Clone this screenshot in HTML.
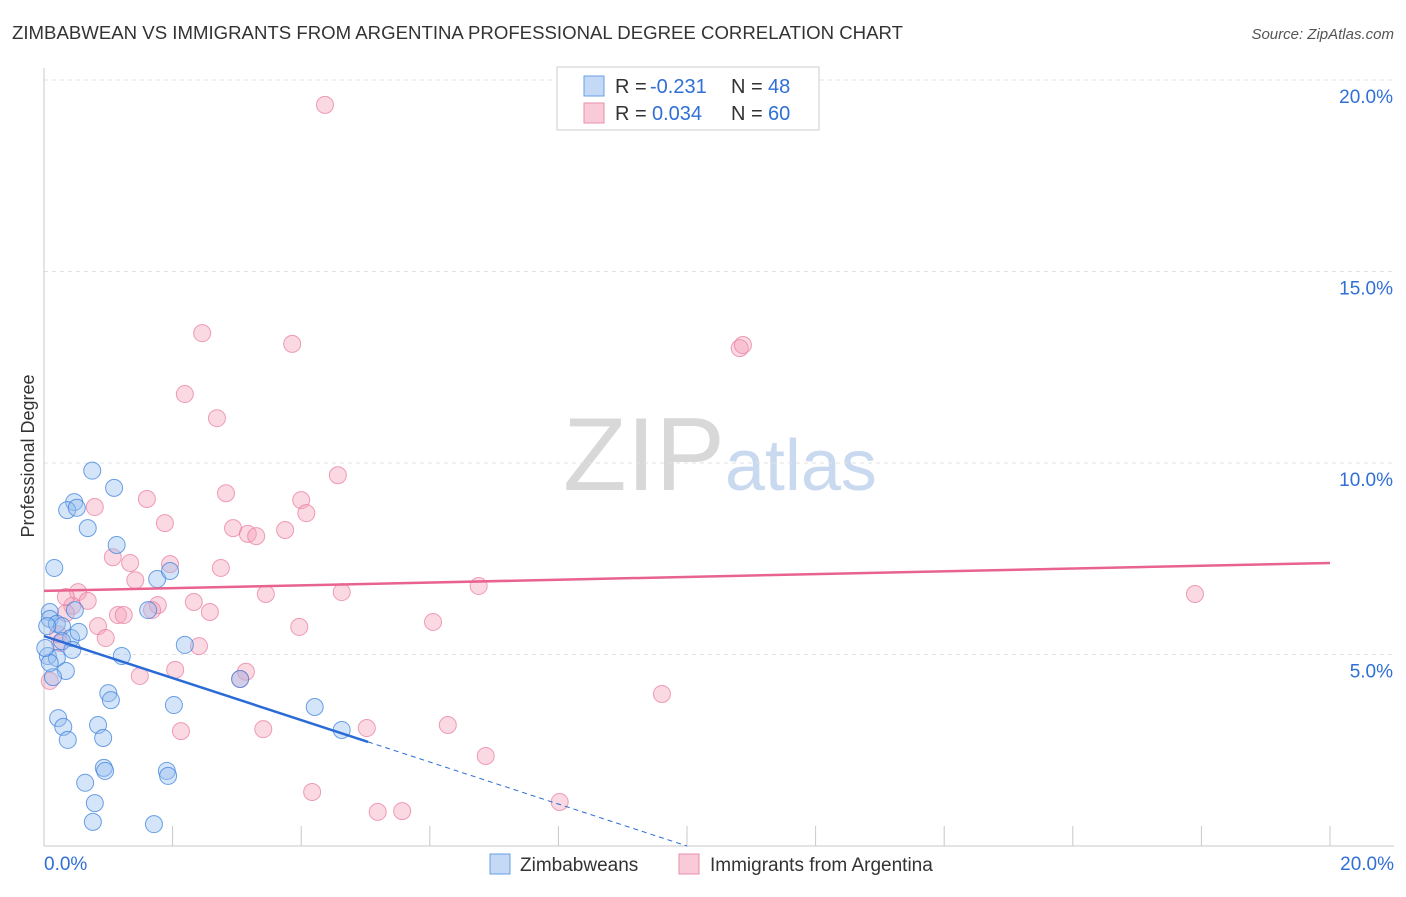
<!DOCTYPE html>
<html><head><meta charset="utf-8"><style>
body{margin:0;background:#fff;font-family:"Liberation Sans",sans-serif;}
svg text{font-family:"Liberation Sans",sans-serif;}
</style></head><body>
<svg id="chart" width="1406" height="892" xmlns="http://www.w3.org/2000/svg">
<text x="12" y="39" font-size="18" fill="#333" textLength="891" lengthAdjust="spacingAndGlyphs">ZIMBABWEAN VS IMMIGRANTS FROM ARGENTINA PROFESSIONAL DEGREE CORRELATION CHART</text>
<text x="1394" y="39" font-size="15" fill="#555" font-style="italic" text-anchor="end">Source: ZipAtlas.com</text>
<text x="720" y="490" font-size="104" text-anchor="middle" font-family="Liberation Serif"><tspan fill="#d8d8d8">ZIP</tspan><tspan fill="#c9d9ef" font-family="Liberation Sans" font-size="72">atlas</tspan></text>
<g id="grid"></g><g id="axes"></g><g id="marks"></g>
<text transform="translate(34,456) rotate(-90)" font-size="18" fill="#333" text-anchor="middle">Professional Degree</text>
<g>
<rect x="557" y="67" width="262" height="63" fill="#fff" stroke="#ccc"/>
<rect x="584" y="76" width="20" height="20" fill="#c4d9f5" stroke="#6a9ee6"/>
<rect x="584" y="103" width="20" height="20" fill="#f9cbd8" stroke="#ea8fab"/>
<text x="615" y="93" font-size="20" fill="#333">R =</text>
<text x="650" y="93" font-size="20" fill="#2f6fd6">-0.231</text>
<text x="731" y="93" font-size="20" fill="#333">N =</text>
<text x="768" y="93" font-size="20" fill="#2f6fd6">48</text>
<text x="615" y="120" font-size="20" fill="#333">R =</text>
<text x="652" y="120" font-size="20" fill="#2f6fd6">0.034</text>
<text x="731" y="120" font-size="20" fill="#333">N =</text>
<text x="768" y="120" font-size="20" fill="#2f6fd6">60</text>
</g>
<g>
<rect x="490" y="854" width="20" height="20" fill="#c4d9f5" stroke="#6a9ee6"/>
<text x="520" y="871" font-size="19" fill="#333">Zimbabweans</text>
<rect x="679" y="854" width="20" height="20" fill="#f9cbd8" stroke="#ea8fab"/>
<text x="710" y="871" font-size="19" fill="#333">Immigrants from Argentina</text>
</g>
</svg>
<script>
const yTicks=[5,10,15,20];
const yTickLabels=["5.0%","10.0%","15.0%","20.0%"];
const xTickLabels=["0.0%","20.0%"];
const blueX=[0.75,1.09,0.47,0.36,0.51,0.68,1.13,0.16,1.76,1.96,1.62,0.09,0.09,0.48,0.2,0.28,0.05,0.42,0.54,0.28,0.44,0.06,0.2,0.34,0.14,1.21,2.19,3.05,1.0,1.04,2.02,4.21,0.22,0.3,0.84,0.92,0.37,1.91,1.93,0.93,0.95,0.64,0.79,0.76,1.71,4.63,0.09,0.02];
const blueY=[9.8,9.35,8.98,8.77,8.83,8.3,7.86,7.26,6.97,7.18,6.16,6.11,5.93,6.16,5.8,5.74,5.74,5.43,5.59,5.35,5.12,4.96,4.91,4.57,4.41,4.96,5.25,4.36,3.99,3.81,3.68,3.63,3.34,3.11,3.16,2.82,2.77,1.96,1.83,2.04,1.96,1.65,1.12,0.63,0.57,3.03,4.78,5.17];
const pinkX=[4.37,2.46,3.86,10.82,10.87,2.19,2.69,4.57,2.83,1.6,4.0,0.79,4.08,1.88,2.94,3.75,3.17,3.3,1.07,1.34,1.96,2.75,1.42,6.76,0.53,4.63,3.45,17.9,0.68,0.44,2.33,1.77,1.68,2.58,0.34,1.15,1.24,0.84,3.97,6.05,0.22,0.96,2.41,2.04,3.14,3.05,1.49,0.09,9.61,5.02,6.28,2.13,3.41,6.87,4.17,8.02,5.19,5.57,0.34,0.25];
const pinkY=[19.35,13.39,13.11,13.0,13.08,11.8,11.17,9.68,9.21,9.06,9.03,8.85,8.69,8.43,8.3,8.25,8.15,8.09,7.54,7.39,7.36,7.26,6.94,6.79,6.63,6.63,6.58,6.58,6.4,6.27,6.37,6.29,6.16,6.11,6.08,6.03,6.03,5.74,5.72,5.85,5.53,5.43,5.22,4.6,4.55,4.36,4.44,4.31,3.97,3.08,3.16,3.0,3.05,2.35,1.41,1.15,0.89,0.91,6.5,5.3];
const blueLine=[5.48,-0.548]; // intercept, slope
const pinkLine=[6.66,0.0365];
const X0=44,X1=1330,Y0=846,PX=(X1-X0)/20,PY=(846-80)/20;
const sx=v=>X0+v*PX, sy=v=>Y0-v*PY;
const NS="http://www.w3.org/2000/svg";
function mk(t,a,p){const e=document.createElementNS(NS,t);for(const k in a)e.setAttribute(k,a[k]);p.appendChild(e);return e;}
const grid=document.getElementById('grid'),axes=document.getElementById('axes'),marks=document.getElementById('marks');
yTicks.forEach((t,i)=>{
 const l=mk('line',{x1:X0,x2:1394,y1:sy(t),y2:sy(t),stroke:'#e2e2e2','stroke-dasharray':'4,4'},grid);
 
 
 const tx=mk('text',{x:1393,y:sy(t)+23,'font-size':19,fill:'#2f6fd6','text-anchor':'end'},axes);
 tx.textContent=yTickLabels[i];
 
 
});
const ax=mk('line',{x1:X0,x2:X0,y1:68,y2:846,stroke:'#c8c8c8'},axes);


const bx=mk('line',{x1:X0,x2:1394,y1:846,y2:846,stroke:'#c8c8c8'},axes);


for(let i=1;i<=10;i++){
 const t=mk('line',{x1:sx(i*2),x2:sx(i*2),y1:826,y2:846,stroke:'#c8c8c8'},axes);
 
 
}
[[0,'start',44],[20,'end',1394]].forEach((d,i)=>{
 const tx=mk('text',{x:d[2],y:870,'font-size':19,fill:'#2f6fd6','text-anchor':d[1]},axes);
 tx.textContent=xTickLabels[i];
 
 
});
pinkX.forEach((x,i)=>{
 const c=mk('circle',{cx:sx(x),cy:sy(pinkY[i]),r:8.5,fill:'rgba(244,160,185,0.4)',stroke:'rgba(232,120,155,0.7)','stroke-width':1},marks);
 
 
});
blueX.forEach((x,i)=>{
 const c=mk('circle',{cx:sx(x),cy:sy(blueY[i]),r:8.5,fill:'rgba(150,190,240,0.4)',stroke:'rgba(60,130,220,0.75)','stroke-width':1},marks);
 
 
});
const pl=mk('line',{x1:sx(0),y1:sy(pinkLine[0]),x2:sx(20),y2:sy(pinkLine[0]+pinkLine[1]*20),stroke:'#e8638f','stroke-width':2.5},marks);


const xe=5.04,xz=-blueLine[0]/blueLine[1];
const bl=mk('line',{x1:sx(0),y1:sy(blueLine[0]),x2:sx(xe),y2:sy(blueLine[0]+blueLine[1]*xe),stroke:'#2a6bd6','stroke-width':2.5},marks);


const bd=mk('line',{x1:sx(xe),y1:sy(blueLine[0]+blueLine[1]*xe),x2:sx(xz),y2:sy(0),stroke:'#2a6bd6','stroke-width':1,'stroke-dasharray':'5,4'},marks);


</script>
</body></html>
